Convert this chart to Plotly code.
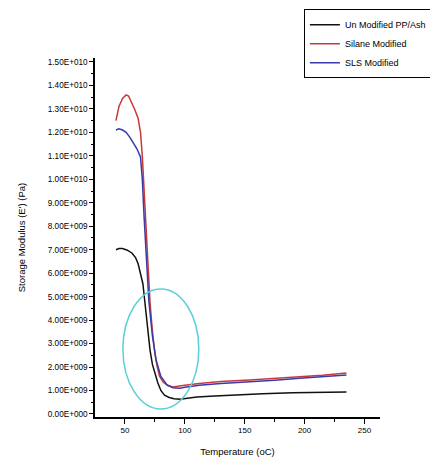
import plotly.graph_objects as go

# ---- data (temperature in °C, storage modulus in units of 1e9 Pa) ----
t_unmod = [42.5, 45, 48, 52, 56, 59, 61, 63, 65, 67, 69, 71, 73, 75, 77.5, 80, 83, 87, 91, 96, 100, 110, 125, 143, 165, 190, 215, 235]
e_unmod = [7.0, 7.05, 7.05, 6.98, 6.85, 6.65, 6.4, 6.0, 5.55, 4.6, 3.6, 2.7, 2.1, 1.7, 1.32, 1.0, 0.8, 0.7, 0.65, 0.63, 0.65, 0.72, 0.76, 0.81, 0.86, 0.9, 0.92, 0.94]

t_silane = [42.5, 45, 48, 51, 53, 55, 58, 61, 63, 64.5, 66, 67.5, 69, 71, 73, 75, 77, 79, 82, 86, 90, 96, 100, 112, 130, 154, 175, 196, 215, 235]
e_silane = [12.5, 13.1, 13.45, 13.6, 13.55, 13.35, 13.0, 12.6, 12.0, 11.0, 9.5, 7.8, 6.3, 4.7, 3.5, 2.6, 2.0, 1.6, 1.35, 1.2, 1.15, 1.18, 1.22, 1.3, 1.38, 1.45, 1.52, 1.58, 1.65, 1.75]

t_sls = [42.5, 45, 48, 51, 54, 57, 60, 63, 64.5, 66, 68, 70, 73, 76, 80, 85, 90, 96, 100, 112, 130, 154, 175, 196, 215, 235]
e_sls = [12.1, 12.15, 12.1, 12.0, 11.8, 11.55, 11.3, 10.95, 10.0, 8.4, 6.4, 4.8, 3.3, 2.3, 1.6, 1.25, 1.12, 1.1, 1.14, 1.22, 1.3, 1.36, 1.44, 1.52, 1.58, 1.66]

series_names = ["Un Modified PP/Ash", "Silane Modified", "SLS Modified"]
series_colors = ["#111111", "#c83a3a", "#3a3aa8"]

y_tick_vals = [i * 1e9 for i in range(16)]
y_tick_text = ["0.00E+000", "1.00E+009", "2.00E+009", "3.00E+009", "4.00E+009",
               "5.00E+009", "6.00E+009", "7.00E+009", "8.00E+009", "9.00E+009",
               "1.00E+010", "1.10E+010", "1.20E+010", "1.30E+010", "1.40E+010", "1.50E+010"]
x_tick_vals = [50, 100, 150, 200, 250]

fig = go.Figure()
for t, e, name, col in zip([t_unmod, t_silane, t_sls], [e_unmod, e_silane, e_sls], series_names, series_colors):
    fig.add_trace(go.Scatter(x=t, y=[v * 1e9 for v in e], mode="lines", name=name,
                             line=dict(color=col, width=1.5)))

# highlighted ellipse
fig.add_shape(type="circle", xref="x", yref="y", x0=48.3, x1=111.7, y0=0.21e9, y1=5.33e9,
              line=dict(color="#5ccfd8", width=1.5))

font = "Liberation Sans, Arial, sans-serif"
fig.update_layout(
    width=430, height=468,
    margin=dict(l=95, r=50, t=58, b=51, autoexpand=False),
    paper_bgcolor="white", plot_bgcolor="white",
    font=dict(family=font, color="black"),
    showlegend=True,
    legend=dict(x=0.733, xanchor="left", y=1.136, yanchor="top",
                bordercolor="black", borderwidth=1, bgcolor="white",
                font=dict(size=9, family=font), itemwidth=30,
                tracegroupgap=0),
    xaxis=dict(range=[25, 263], showgrid=False, zeroline=False,
               showline=True, linecolor="black", linewidth=1.5,
               ticks="outside", ticklen=5, tickwidth=1.2, tickcolor="black",
               tickvals=x_tick_vals, tickfont=dict(size=8),
               minor=dict(tickvals=[75, 125, 175, 225], ticks="outside", ticklen=3, tickcolor="black"),
               title=dict(text="Temperature (oC)", font=dict(size=9.5), standoff=14)),
    yaxis=dict(range=[-0.13e9, 15.17e9], showgrid=False, zeroline=False,
               showline=True, linecolor="black", linewidth=1.5,
               ticks="outside", ticklen=4, tickwidth=1.2, tickcolor="black",
               tickvals=y_tick_vals, ticktext=y_tick_text, tickfont=dict(size=8.2),
               minor=dict(tickvals=[(i + 0.5) * 1e9 for i in range(15)], ticks="outside", ticklen=2, tickcolor="black"),
               title=dict(text="Storage Modulus (E') (Pa)", font=dict(size=9.5), standoff=20)),
)

fig.write_html("out.html")
